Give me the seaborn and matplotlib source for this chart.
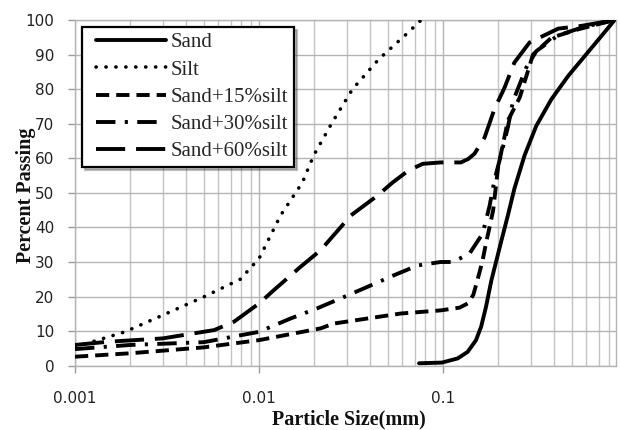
import matplotlib
matplotlib.use("Agg")
import matplotlib.pyplot as plt
import seaborn as sns
import pandas as pd
from matplotlib.lines import Line2D
from matplotlib.legend_handler import HandlerLine2D
from matplotlib.ticker import FixedLocator, FixedFormatter, LogLocator, NullFormatter

# Grain-size distribution curves (particle size in mm, percent passing)
sand_x = [0.074, 0.085, 0.0985, 0.120, 0.136, 0.151, 0.161, 0.171, 0.183, 0.195,
          0.207, 0.225, 0.244, 0.277, 0.321, 0.388, 0.478, 0.589, 0.726, 0.855]
sand_y = [0.7, 0.8, 0.9, 2.1, 4.0, 7.4, 11.3, 17.0, 24.7, 30.5,
          36.0, 43.5, 51.2, 60.8, 69.4, 77.1, 83.8, 89.6, 95.4, 100.0]

silt_x = [0.001, 0.00187, 0.0033, 0.0051, 0.0079, 0.0100, 0.0131, 0.0172, 0.0198,
          0.025, 0.0322, 0.0448, 0.0643, 0.076]
silt_y = [5.4, 9.8, 15.6, 20.1, 25.0, 31.0, 43.5, 53.0, 60.8,
          70.4, 80.0, 88.7, 96.3, 100.0]

s15_x = [0.001, 0.002, 0.005, 0.01, 0.0216, 0.0255, 0.059, 0.097, 0.123, 0.136,
         0.146, 0.157, 0.164, 0.171, 0.177, 0.187, 0.199, 0.225, 0.261, 0.308,
         0.388, 0.542, 0.855]
s15_y = [2.6, 3.6, 5.3, 7.4, 10.8, 12.2, 15.1, 16.0, 16.8, 18.0,
         20.5, 26.6, 30.5, 35.4, 39.0, 44.9, 57.4, 70.9, 77.6, 90.0,
         94.9, 97.3, 100.0]

s30_x = [0.001, 0.002, 0.005, 0.01, 0.0113, 0.0149, 0.0207, 0.029, 0.0388, 0.0543,
         0.0728, 0.097, 0.113, 0.139, 0.164, 0.179, 0.190, 0.207, 0.225, 0.240,
         0.283, 0.321, 0.42, 0.58, 0.855]
s30_y = [4.8, 6.0, 6.8, 9.8, 11.0, 13.7, 16.6, 19.9, 22.8, 26.2,
         29.0, 30.0, 30.0, 32.4, 38.2, 46.3, 53.6, 61.3, 69.0, 76.6,
         86.2, 91.0, 95.5, 98.0, 100.0]

s60_x = [0.001, 0.00149, 0.003, 0.0057, 0.0073, 0.01, 0.012, 0.0168, 0.0216, 0.0316,
         0.044, 0.0532, 0.065, 0.0776, 0.097, 0.125, 0.137, 0.148, 0.168, 0.190,
         0.216, 0.244, 0.295, 0.422, 0.565, 0.855]
s60_y = [6.0, 6.9, 7.9, 10.3, 12.7, 18.0, 21.8, 28.6, 33.4, 43.5,
         49.2, 53.0, 56.5, 58.4, 58.8, 58.8, 59.8, 61.3, 66.0, 74.2,
         80.5, 87.7, 93.5, 97.5, 98.3, 100.0]

series_names = ["Sand", "Silt", "Sand+15%silt", "Sand+30%silt", "Sand+60%silt"]
series_x = [sand_x, silt_x, s15_x, s30_x, s60_x]
series_y = [sand_y, silt_y, s15_y, s30_y, s60_y]

x_ticks = [0.001, 0.01, 0.1]
x_tick_labels = ["0.001", "0.01", "0.1"]
y_ticks = list(range(0, 101, 10))

sns.set_theme(style="white")
plt.rcParams["font.family"] = ["DejaVu Sans"]

fig = plt.figure(figsize=(6.2, 4.3), dpi=100)
ax = fig.add_axes([75 / 620, 1 - 365.7 / 430, 541 / 620, 345.7 / 430])

line_styles = {
    "Sand": dict(linestyle="-", lw=2.8),
    "Silt": dict(linestyle=(0, (0.05, 2.7)), lw=2.6, dash_capstyle="round"),
    "Sand+15%silt": dict(linestyle=(0, (3.4, 1.8)), lw=2.8),
    "Sand+30%silt": dict(linestyle=(0, (5.0, 2.4, 0.8, 2.4)), lw=2.8),
    "Sand+60%silt": dict(linestyle=(0, (7.5, 2.8)), lw=2.8),
}

for name, xs, ys in zip(series_names, series_x, series_y):
    df = pd.DataFrame({"size": xs, "passing": ys})
    sns.lineplot(data=df, x="size", y="passing", ax=ax, color="black",
                 label=name, zorder=3, **line_styles[name])

ax.set_xscale("log")
ax.set_xlim(0.001, 0.87)
ax.set_ylim(0, 100)

ax.xaxis.set_major_locator(FixedLocator(x_ticks))
ax.xaxis.set_major_formatter(FixedFormatter(x_tick_labels))
ax.xaxis.set_minor_locator(LogLocator(base=10, subs=range(2, 10), numticks=20))
ax.xaxis.set_minor_formatter(NullFormatter())
ax.set_yticks(y_ticks)

ax.grid(True, which="major", axis="both", color="#b4b4b4", lw=1.0)
ax.grid(True, which="minor", axis="x", color="#c4c4c4", lw=1.0)
ax.set_axisbelow(True)

for side in ["left", "bottom", "right", "top"]:
    ax.spines[side].set_color("#b4b4b4")
    ax.spines[side].set_linewidth(1.0)

ax.tick_params(axis="x", which="major", direction="out", length=5, width=1.0,
               color="#999999", pad=13, labelsize=11, labelcolor="#222222", bottom=True)
ax.tick_params(axis="x", which="minor", length=0)
ax.tick_params(axis="y", which="major", direction="out", length=5, width=1.0,
               color="#999999", pad=10, labelsize=11, labelcolor="#222222", left=True)

ax.set_xlabel("Particle Size(mm)", fontsize=14.5, fontweight="bold",
              family="Liberation Serif", color="#111111")
ax.set_ylabel("Percent Passing", fontsize=14.5, fontweight="bold",
              family="Liberation Serif", color="#111111")
ax.xaxis.set_label_coords(0.507, -0.128)
ax.yaxis.set_label_coords(-0.072, 0.494)

leg = ax.legend(loc="upper left", bbox_to_anchor=(0.013, 0.98), borderaxespad=0,
                prop={"family": "Liberation Serif", "size": 15},
                handlelength=3.75, handletextpad=0.24, labelspacing=0.37,
                borderpad=0.28, frameon=True, fancybox=False,
                handler_map={Line2D: HandlerLine2D(xpad=0.38)},
                shadow={"alpha": 0.35}, framealpha=1)
leg.get_frame().set_edgecolor("black")
leg.get_frame().set_linewidth(1.6)
leg.set_zorder(5)

fig.savefig("out.png", dpi=100)
